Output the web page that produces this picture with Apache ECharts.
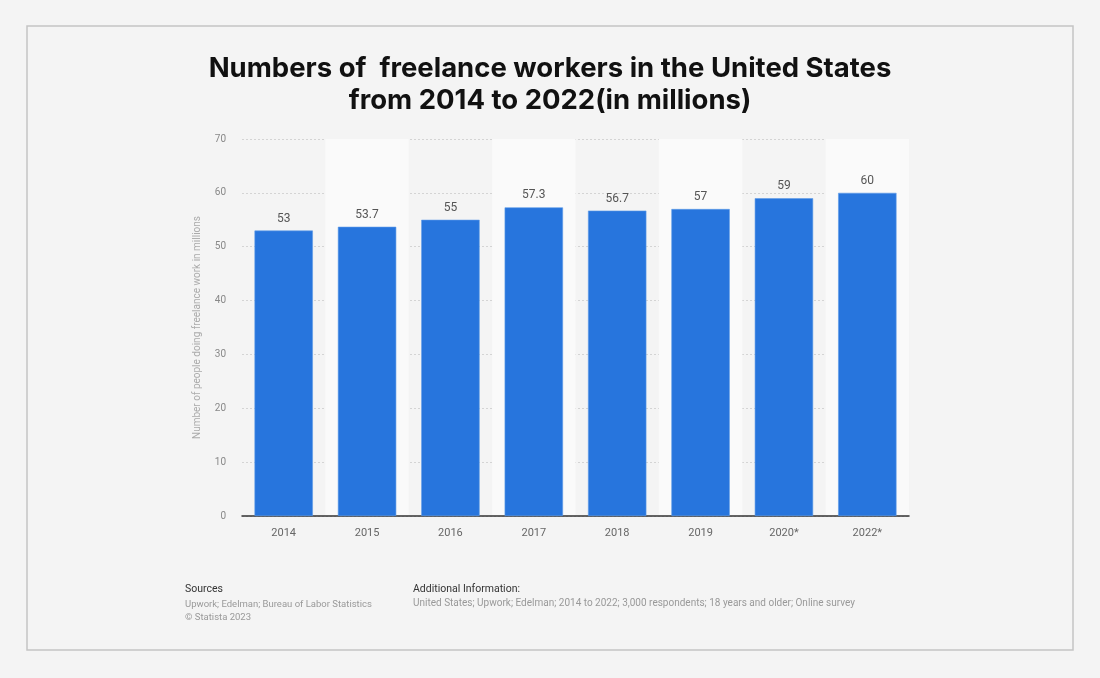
<!DOCTYPE html>
<html><head><meta charset="utf-8">
<script src="https://cdn.jsdelivr.net/npm/echarts@6/dist/echarts.min.js"></script>
<style>html,body{margin:0;padding:0;background:#f4f4f4}#c{width:1100px;height:678px}</style>
</head><body><div id="c"></div>
<script>
const categories = ['2014','2015','2016','2017','2018','2019','2020*','2022*'];
const values = [53, 53.7, 55, 57.3, 56.7, 57, 59, 60];
const yTicks = [0,10,20,30,40,50,60,70];
const titleText = 'Numbers of  freelance workers in the United States\nfrom 2014 to 2022(in millions)';
const yName = 'Number of people doing freelance work in millions';

const chart = echarts.init(document.getElementById('c'));
chart.setOption({
  backgroundColor: '#f4f4f4',
  animation: false,
  title: {
    text: titleText, left: 'center', top: 48,
    textStyle: {fontFamily: 'Inter', fontSize: 27.5, fontWeight: 'bold', color: '#111', lineHeight: 32}
  },
  grid: {left: 242, right: 191, top: 139, bottom: 162},
  xAxis: {
    type: 'category', data: categories,
    axisLine: {lineStyle: {color: '#333', width: 1.5}},
    axisTick: {show: false},
    axisLabel: {color: '#666', fontSize: 11, fontFamily: 'Roboto', margin: 12},
    splitArea: {show: true, areaStyle: {color: ['rgba(0,0,0,0)', '#fafafa']}}
  },
  yAxis: {
    type: 'value', min: yTicks[0], max: yTicks[yTicks.length-1], interval: 10,
    name: yName, nameLocation: 'middle', nameGap: 40, nameRotate: 90,
    nameTextStyle: {color: '#aaa', fontSize: 10, fontFamily: 'Roboto'},
    axisLine: {show: false}, axisTick: {show: false},
    axisLabel: {color: '#888', fontSize: 10, fontFamily: 'Roboto', margin: 16},
    splitLine: {lineStyle: {color: '#d4d4d4', type: [2, 2]}}
  },
  series: [{
    type: 'bar', data: values, barWidth: '70%',
    itemStyle: {color: '#2775dd', borderColor: '#5c9be8', borderWidth: 0.6},
    label: {show: true, position: 'top', color: '#555', fontSize: 12, fontFamily: 'Roboto', distance: 6}
  }],
  graphic: [
    {type: 'rect', shape: {x: 27, y: 26, width: 1046, height: 624}, style: {fill: 'none', stroke: '#c4c4c4', lineWidth: 1.5}, silent: true},
    {type: 'text', left: 185, top: 584, style: {text: 'Sources', fill: '#333', fontSize: 10.5, fontFamily: 'Roboto'}},
    {type: 'text', left: 185, top: 598, style: {text: 'Upwork; Edelman; Bureau of Labor Statistics\n© Statista 2023', fill: '#999', fontSize: 9.5, lineHeight: 13, fontFamily: 'Roboto'}},
    {type: 'text', left: 413, top: 584, style: {text: 'Additional Information:', fill: '#333', fontSize: 10.5, fontFamily: 'Roboto'}},
    {type: 'text', left: 413, top: 598, style: {text: 'United States; Upwork; Edelman; 2014 to 2022; 3,000 respondents; 18 years and older; Online survey', fill: '#999', fontSize: 10, fontFamily: 'Roboto'}}
  ]
});
</script></body></html>
